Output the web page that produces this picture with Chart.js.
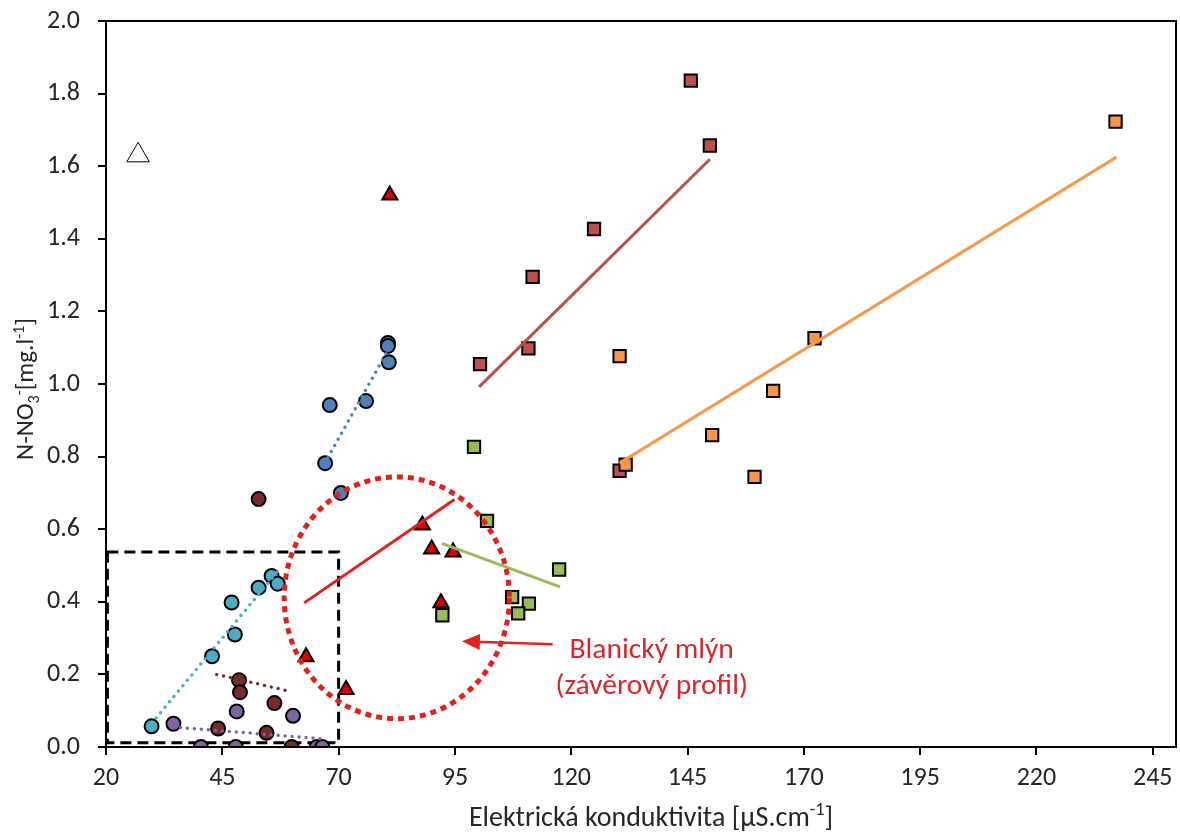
<!DOCTYPE html>
<html>
<head>
<meta charset="utf-8">
<script src="https://cdn.jsdelivr.net/npm/chart.js@4.4.1/dist/chart.umd.min.js"></script>
<style>
  html, body { margin: 0; padding: 0; background: #fff; }
  #wrap { width: 1180px; height: 834px; position: relative; }
</style>
</head>
<body>
<div id="wrap"><canvas id="chart"></canvas></div>
<script>
/* N-NO3 vs. elektrická konduktivita — scatter s trendy */

const FONT = 'Carlito, Lato, "Liberation Sans", sans-serif';

// osy
const xTicks = [20, 45, 70, 95, 120, 145, 170, 195, 220, 245];
const yTicks = [0, 0.2, 0.4, 0.6, 0.8, 1.0, 1.2, 1.4, 1.6, 1.8, 2.0];

// kruhy
const blueX = [80.6, 80.6, 80.8, 68.1, 75.9, 67.1, 70.5];
const blueY = [1.113, 1.105, 1.06, 0.942, 0.953, 0.782, 0.700];
const cyanX = [29.8, 42.8, 47.7, 47.0, 52.8, 55.6, 56.9];
const cyanY = [0.057, 0.250, 0.310, 0.398, 0.439, 0.471, 0.450];
const brownX = [52.8, 48.6, 48.8, 56.2, 44.1, 54.5, 59.9];
const brownY = [0.683, 0.184, 0.151, 0.121, 0.051, 0.039, 0.0];
const purpleX = [34.5, 48.1, 60.2, 40.4, 47.9, 65.3, 66.5];
const purpleY = [0.064, 0.098, 0.086, 0.0, 0.0, 0.0, 0.0];

// trojúhelníky
const redX = [81.0, 88.0, 90.0, 94.6, 92.0, 63.0, 71.6];
const redY = [1.52, 0.611, 0.545, 0.537, 0.397, 0.248, 0.158];
const openX = [26.9];
const openY = [1.63];

// čtverce
const darkRedX = [145.7, 149.8, 124.9, 111.7, 110.8, 100.4, 130.4];
const darkRedY = [1.836, 1.657, 1.427, 1.295, 1.098, 1.055, 0.761];
const orangeX = [130.4, 163.4, 237.0, 172.3, 131.7, 150.3, 159.4];
const orangeY = [1.077, 0.981, 1.723, 1.126, 0.778, 0.859, 0.744];
const greenX = [99.1, 101.9, 117.4, 107.3, 110.9, 108.6, 92.3];
const greenY = [0.827, 0.623, 0.489, 0.413, 0.395, 0.368, 0.363];

// lineární trendy (koncové body)
const blueTrendX = [67.7, 80.6];
const blueTrendY = [0.797, 1.093];
const cyanTrendX = [29.8, 56.9];
const cyanTrendY = [0.065, 0.484];
const brownTrendX = [43.8, 59.7];
const brownTrendY = [0.200, 0.153];
const purpleTrendX = [34.5, 66.0];
const purpleTrendY = [0.055, 0.023];
const redTrendX = [62.6, 94.9];
const redTrendY = [0.397, 0.682];
const darkRedTrendX = [100.2, 149.8];
const darkRedTrendY = [0.992, 1.619];
const orangeTrendX = [130.4, 237.2];
const orangeTrendY = [0.782, 1.625];
const greenTrendX = [92.2, 117.6];
const greenTrendY = [0.561, 0.441];

const pts = (xs, ys) => xs.map((x, i) => ({ x, y: ys[i] }));

function markers(xs, ys, color, style, r, order) {
  return {
    data: pts(xs, ys), pointStyle: style, pointRadius: r,
    pointBackgroundColor: color, pointBorderColor: '#000', pointBorderWidth: 2,
    showLine: false, order,
  };
}
function trend(xs, ys, color, dotted) {
  return {
    data: pts(xs, ys), showLine: true, pointRadius: 0,
    borderColor: color, borderWidth: dotted ? 3.5 : 3,
    borderDash: dotted ? [0, 7] : [], borderCapStyle: dotted ? 'round' : 'butt',
    order: 0,
  };
}

// popisky a vyznačení v grafu
const boxArea = { xMin: 20.3, xMax: 70, yMin: 0.012, yMax: 0.537 };
const ring = { x: 82.5, y: 0.411, rx: 24.2, ry: 0.333 };
const arrow = { x1: 116.0, y1: 0.283, x2: 96.5, y2: 0.291 };
const noteLines = ['Blanický mlýn', '(závěrový profil)'];
const noteX = 137.3;
const noteY = [0.245, 0.147];

function richText(ctx, parts, size) {
  const w = parts.map(p => {
    ctx.font = (p.k === 'n' ? size : size * 0.65) + 'px ' + FONT;
    return ctx.measureText(p.t).width;
  });
  const total = w.reduce((a, b) => a + b, 0);
  let x = -total / 2;
  parts.forEach((p, i) => {
    const s = p.k === 'n' ? size : size * 0.65;
    const dy = p.k === 'sub' ? size * 0.22 : p.k === 'sup' ? -size * 0.38 : 0;
    ctx.font = s + 'px ' + FONT;
    ctx.fillText(p.t, x, dy);
    x += w[i];
  });
}

const decorations = {
  id: 'decorations',
  beforeDatasetsDraw(chart) {
    const { ctx, scales: { x, y } } = chart;
    ctx.save();
    ctx.strokeStyle = '#000';
    ctx.lineWidth = 3;
    ctx.setLineDash([11, 6]);
    const l = x.getPixelForValue(boxArea.xMin), r = x.getPixelForValue(boxArea.xMax);
    const t = y.getPixelForValue(boxArea.yMax), b = y.getPixelForValue(boxArea.yMin);
    ctx.strokeRect(l, t, r - l, b - t);
    ctx.restore();
  },
  afterDatasetsDraw(chart) {
    const { ctx, chartArea: a, scales: { x, y } } = chart;
    ctx.save();
    // rámeček plochy grafu
    ctx.strokeStyle = '#000';
    ctx.lineWidth = 2;
    ctx.strokeRect(a.left, a.top, a.right - a.left, a.bottom - a.top);

    // tečkovaná elipsa
    const cx = x.getPixelForValue(ring.x), cy = y.getPixelForValue(ring.y);
    const rx = x.getPixelForValue(ring.x + ring.rx) - cx;
    const ry = cy - y.getPixelForValue(ring.y + ring.ry);
    ctx.strokeStyle = '#E3211C';
    ctx.lineWidth = 5;
    ctx.setLineDash([6, 5]);
    ctx.beginPath();
    ctx.ellipse(cx, cy, rx, ry, 0, 0, Math.PI * 2);
    ctx.stroke();
    ctx.setLineDash([]);

    // šipka
    const ax1 = x.getPixelForValue(arrow.x1), ay1 = y.getPixelForValue(arrow.y1);
    const ax2 = x.getPixelForValue(arrow.x2), ay2 = y.getPixelForValue(arrow.y2);
    const ang = Math.atan2(ay2 - ay1, ax2 - ax1);
    const hl = 18, hw = 8;
    ctx.strokeStyle = '#E3211C';
    ctx.fillStyle = '#E3211C';
    ctx.lineWidth = 2.5;
    ctx.beginPath();
    ctx.moveTo(ax1, ay1);
    ctx.lineTo(ax2 - Math.cos(ang) * hl * 0.8, ay2 - Math.sin(ang) * hl * 0.8);
    ctx.stroke();
    ctx.beginPath();
    ctx.moveTo(ax2, ay2);
    ctx.lineTo(ax2 - Math.cos(ang) * hl + Math.sin(ang) * hw, ay2 - Math.sin(ang) * hl - Math.cos(ang) * hw);
    ctx.lineTo(ax2 - Math.cos(ang) * hl - Math.sin(ang) * hw, ay2 - Math.sin(ang) * hl + Math.cos(ang) * hw);
    ctx.closePath();
    ctx.fill();

    // text
    ctx.fillStyle = '#D9252B';
    ctx.font = '29.5px ' + FONT;
    ctx.textAlign = 'center';
    ctx.textBaseline = 'alphabetic';
    noteLines.forEach((s, i) => ctx.fillText(s, x.getPixelForValue(noteX), y.getPixelForValue(noteY[i])));
    ctx.restore();
  },
  afterDraw(chart) {
    const { ctx } = chart;
    ctx.save();
    ctx.fillStyle = '#262626';
    ctx.textAlign = 'left';
    ctx.textBaseline = 'alphabetic';
    ctx.translate(651, 826);
    richText(ctx, [{ t: 'Elektrická konduktivita [µS.cm', k: 'n' }, { t: '-1', k: 'sup' }, { t: ']', k: 'n' }], 28);
    ctx.restore();

    ctx.save();
    ctx.fillStyle = '#262626';
    ctx.textAlign = 'left';
    ctx.textBaseline = 'alphabetic';
    ctx.translate(33, 389);
    ctx.rotate(-Math.PI / 2);
    richText(ctx, [
      { t: 'N-NO', k: 'n' }, { t: '3', k: 'sub' }, { t: '-', k: 'sup' },
      { t: '[mg.l', k: 'n' }, { t: '-1', k: 'sup' }, { t: ']', k: 'n' },
    ], 25);
    ctx.restore();
  },
};

const noPad = axis => { axis.paddingTop = 0; axis.paddingBottom = 0; axis.paddingLeft = 0; axis.paddingRight = 0; };

const ctx = document.getElementById('chart').getContext('2d');
new Chart(ctx, {
  type: 'scatter',
  data: {
    datasets: [
      trend(blueTrendX, blueTrendY, '#4F81BD', true),
      trend(cyanTrendX, cyanTrendY, '#4BACC6', true),
      trend(brownTrendX, brownTrendY, '#772C2A', true),
      trend(purpleTrendX, purpleTrendY, '#8064A2', true),
      trend(redTrendX, redTrendY, '#E3211C', false),
      trend(darkRedTrendX, darkRedTrendY, '#B9504C', false),
      trend(orangeTrendX, orangeTrendY, '#F39A4C', false),
      trend(greenTrendX, greenTrendY, '#9BBB59', false),
      markers(redX, redY, '#E00000', 'triangle', 8.7, 1),
      markers(orangeX, orangeY, '#F79646', 'rect', 8.7, 2),
      markers(darkRedX, darkRedY, '#C0504D', 'rect', 8.7, 3),
      markers(greenX, greenY, '#9BBB59', 'rect', 8.7, 4),
      markers(blueX, blueY, '#4F81BD', 'circle', 7, 5),
      markers(cyanX, cyanY, '#4BACC6', 'circle', 7, 5),
      markers(brownX, brownY, '#772C2A', 'circle', 7, 5),
      markers(purpleX, purpleY, '#8064A2', 'circle', 7, 5),
      { data: pts(openX, openY), pointStyle: 'triangle', pointRadius: 13,
        pointBackgroundColor: '#fff', pointBorderColor: '#000', pointBorderWidth: 1, order: 6 },
    ],
  },
  options: {
    responsive: true,
    maintainAspectRatio: false,
    animation: false,
    layout: { autoPadding: false, padding: { left: 0, right: 4, top: 21, bottom: 0 } },
    plugins: { legend: { display: false }, tooltip: { enabled: false } },
    scales: {
      x: {
        type: 'linear', min: 20, max: 250,
        afterBuildTicks: axis => { axis.ticks = xTicks.map(v => ({ value: v })); },
        afterFit: axis => { axis.height = 87; noPad(axis); },
        grid: { drawOnChartArea: false, color: '#000', lineWidth: 2, tickLength: 8 },
        border: { color: '#000', width: 2 },
        ticks: { color: '#262626', font: { family: FONT, size: 26 }, padding: 8, maxRotation: 0,
          callback: v => String(v) },
      },
      y: {
        type: 'linear', min: 0, max: 2,
        afterBuildTicks: axis => { axis.ticks = yTicks.map(v => ({ value: v })); },
        afterFit: axis => { axis.width = 106; noPad(axis); },
        grid: { drawOnChartArea: false, color: '#000', lineWidth: 2, tickLength: 8 },
        border: { color: '#000', width: 2 },
        ticks: { color: '#262626', font: { family: FONT, size: 26 }, padding: 18,
          callback: v => v.toFixed(1) },
      },
    },
  },
  plugins: [decorations],
});
</script>
</body>
</html>
